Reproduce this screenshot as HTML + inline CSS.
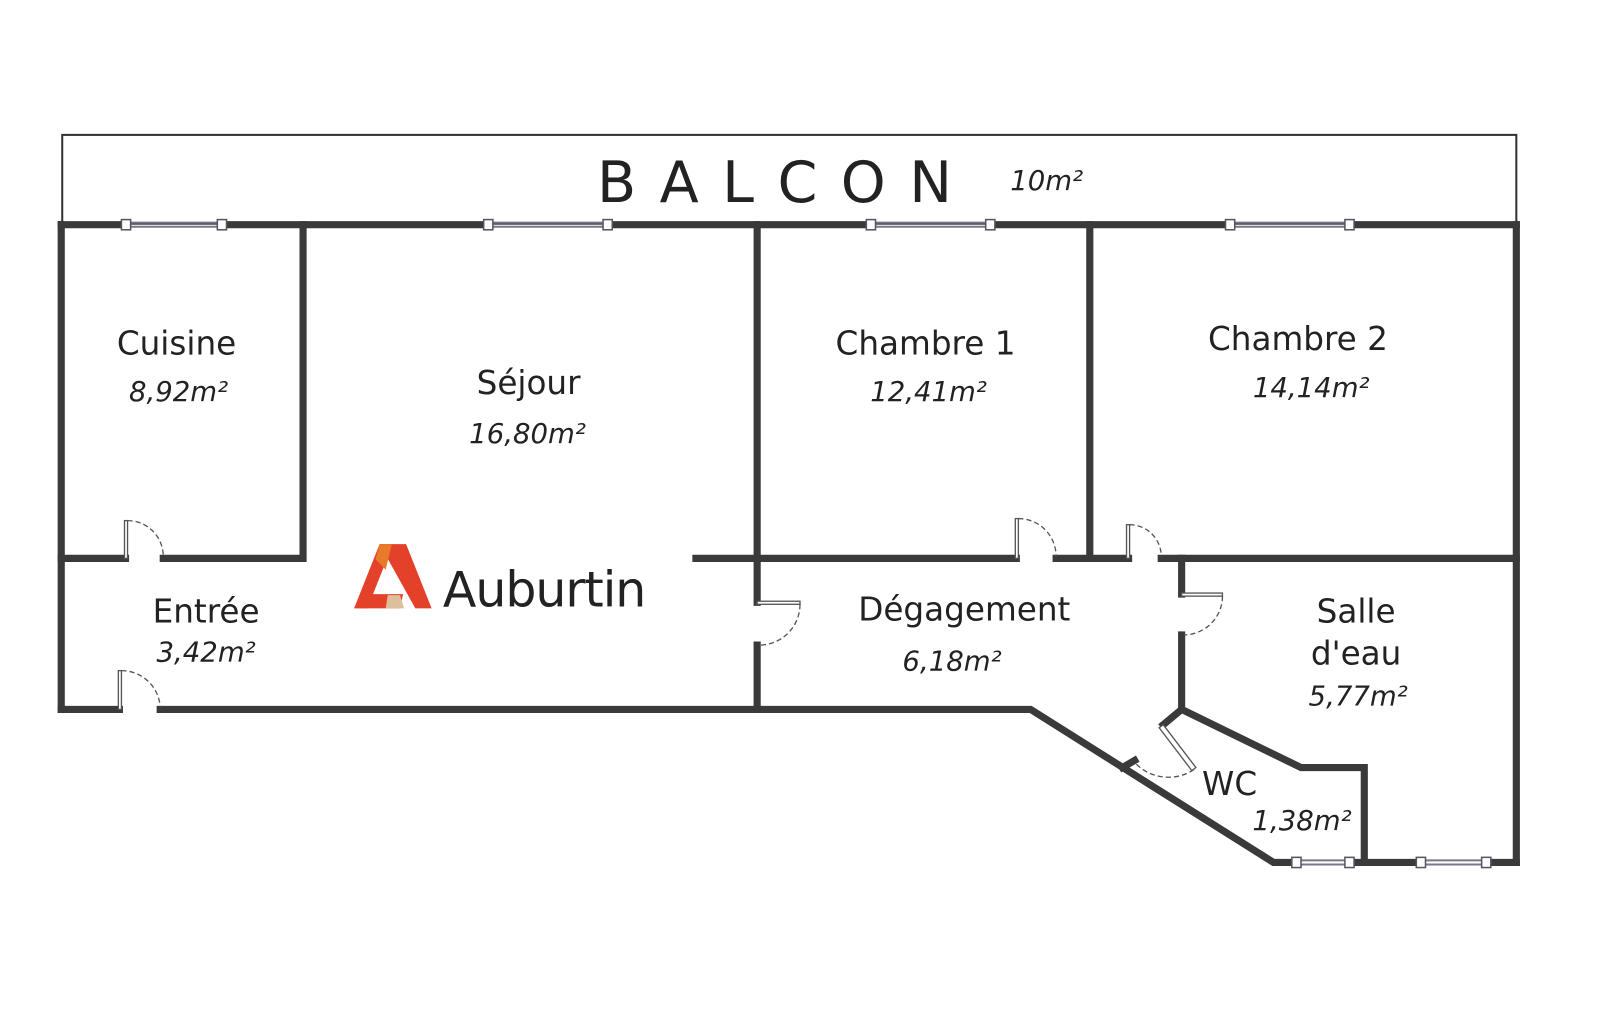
<!DOCTYPE html>
<html><head><meta charset="utf-8"><style>
body{margin:0;background:#fff}
svg{display:block}
text{font-family:"DejaVu Sans","Liberation Sans",sans-serif;fill:#222}
.n{font-size:32px}
.a{font-size:27px;font-style:italic}
</style></head><body>
<svg width="1600" height="1030" viewBox="0 0 1568 1009" xmlns="http://www.w3.org/2000/svg">
<rect x="61" y="132" width="1425" height="87" fill="none" stroke="#333" stroke-width="2"/>
<g stroke="#3a3a3a" stroke-width="7" fill="none" stroke-linecap="square" stroke-linejoin="miter">
<path d="M60 220 H123 M218 220 H478 M596 220 H853 M970 220 H1205 M1322 220 H1486"/>
<path d="M60 220 V695"/>
<path d="M1486 220 V845"/>
<path d="M297 220 V547 M60 547 H123 M160 547 H297"/>
<path d="M742 220 V547 V590 M742 632 V695"/>
<path d="M682 547 H996 M1035 547 H1106 M1138 547 H1486"/>
<path d="M1068 220 V547"/>
<path d="M60 695 H117 M157 695 H1010 L1248 845 H1270 M1322 845 H1392 M1456 845 H1486"/>
<path d="M1158 547 V582 M1158 622 V695 L1275 752 H1337 V845"/>
<path d="M1158 695 L1140 710"/>
<path d="M1100 752 L1112 745"/>
</g>
<g stroke="#778" stroke-width="2" fill="#fff">
<path d="M123 218 H218 M123 222 H218 M478 218 H596 M478 222 H596 M853 218 H970 M853 222 H970 M1205 218 H1322 M1205 222 H1322 M1270 843 H1322 M1270 847 H1322 M1392 843 H1456 M1392 847 H1456"/>
<g stroke="#556" stroke-width="1.5">
<rect x="119" y="215" width="9" height="10"/><rect x="213" y="215" width="9" height="10"/>
<rect x="474" y="215" width="9" height="10"/><rect x="591" y="215" width="9" height="10"/>
<rect x="849" y="215" width="9" height="10"/><rect x="966" y="215" width="9" height="10"/>
<rect x="1201" y="215" width="9" height="10"/><rect x="1318" y="215" width="9" height="10"/>
<rect x="1266" y="840" width="9" height="10"/><rect x="1318" y="840" width="9" height="10"/>
<rect x="1388" y="840" width="9" height="10"/><rect x="1452" y="840" width="9" height="10"/>
</g></g>
<g fill="none" stroke="#555" stroke-width="1.3">
<rect x="122" y="510" width="3" height="37" fill="#fff"/><path d="M125 510 A35 35 0 0 1 160 545" stroke-dasharray="5 3"/>
<rect x="116" y="657" width="3" height="38" fill="#fff"/><path d="M119 657 A38 38 0 0 1 157 693" stroke-dasharray="5 3"/>
<rect x="742" y="589" width="42" height="3" fill="#fff"/><path d="M784 592 A40 40 0 0 1 744 632" stroke-dasharray="5 3"/>
<rect x="995" y="508" width="3" height="39" fill="#fff"/><path d="M998 508 A37 37 0 0 1 1035 545" stroke-dasharray="5 3"/>
<rect x="1104" y="514" width="3" height="33" fill="#fff"/><path d="M1107 514 A31 31 0 0 1 1138 545" stroke-dasharray="5 3"/>
<rect x="1158" y="581" width="40" height="3" fill="#fff"/><path d="M1198 584 A38 38 0 0 1 1160 622" stroke-dasharray="5 3"/>
<path d="M1140 710 L1172 752 L1168 755 L1136 713 Z" fill="#fff"/><path d="M1170 754 A45 45 0 0 1 1112 747" stroke-dasharray="5 3"/>
</g>
<text x="585" y="198" style="font-size:56px;letter-spacing:23px">BALCON</text>
<text x="990" y="186" class="a">10m²</text>
<text x="173" y="347" class="n" text-anchor="middle">Cuisine</text>
<text x="175" y="393" class="a" text-anchor="middle">8,92m²</text>
<text x="518" y="386" class="n" text-anchor="middle">Séjour</text>
<text x="517" y="434" class="a" text-anchor="middle">16,80m²</text>
<text x="907" y="347" class="n" text-anchor="middle">Chambre 1</text>
<text x="910" y="393" class="a" text-anchor="middle">12,41m²</text>
<text x="1272" y="343" class="n" text-anchor="middle">Chambre 2</text>
<text x="1285" y="389" class="a" text-anchor="middle">14,14m²</text>
<text x="202" y="610" class="n" text-anchor="middle">Entrée</text>
<text x="202" y="648" class="a" text-anchor="middle">3,42m²</text>
<text x="945" y="608" class="n" text-anchor="middle">Dégagement</text>
<text x="933" y="657" class="a" text-anchor="middle">6,18m²</text>
<text x="1329" y="610" class="n" text-anchor="middle">Salle</text>
<text x="1329" y="651" class="n" text-anchor="middle">d'eau</text>
<text x="1331" y="691" class="a" text-anchor="middle">5,77m²</text>
<text x="1205" y="779" class="n" text-anchor="middle">WC</text>
<text x="1276" y="813" class="a" text-anchor="middle">1,38m²</text>
<polygon points="372,533 398,533 423,596 407,596" fill="#e4412a"/>
<polygon points="372,533 385,533 360,596 347,596" fill="#e4412a"/>
<polygon points="368,548 372,533 384,533 378,558" fill="#e87a2a"/>
<polygon points="357,582 395,582 392,596 352,596" fill="#e4412a"/>
<polygon points="380,583 392,583 396,596 378,596" fill="#ddbf9c"/>
<text x="434" y="594" style="font-size:48px;fill:#222;letter-spacing:-1px">Auburtin</text>
</svg>
</body></html>
